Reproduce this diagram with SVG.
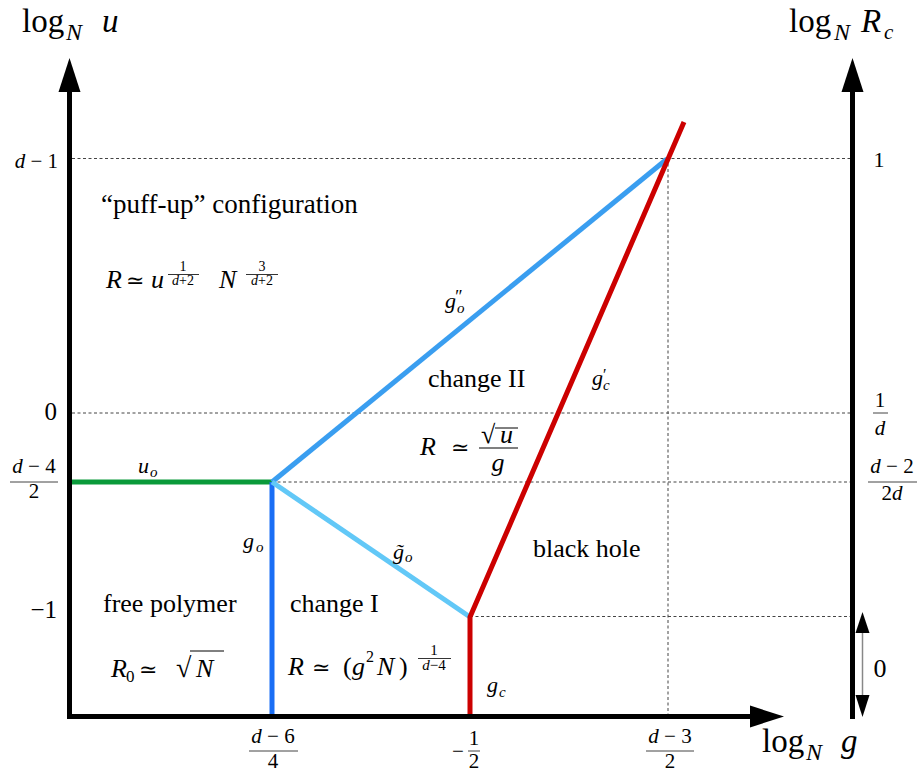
<svg xmlns="http://www.w3.org/2000/svg" width="921" height="774" viewBox="0 0 921 774">
<style>
text{font-family:"Liberation Serif","Times New Roman","DejaVu Serif",serif;fill:#000}
.i{font-style:italic}
.m{text-anchor:middle}
.e{text-anchor:end}
.ax{stroke:#000;stroke-width:5;fill:none}
.dash{stroke:#444;stroke-width:1;stroke-dasharray:3 2.5;fill:none}
.fb{stroke:#444;stroke-width:1}
.ln{stroke-width:5;fill:none;stroke-linejoin:miter}
.lab{font-size:26px}
.tk{font-size:21px}
.sc{font-size:15px}
.ttl{font-size:33px}
</style>
<rect width="921" height="774" fill="#fff"/>

<g id="grid">
<line class="dash" x1="72" y1="158.5" x2="850" y2="158.5"/>
<line class="dash" x1="72" y1="413" x2="850" y2="413"/>
<line class="dash" x1="272" y1="482" x2="850" y2="482"/>
<line class="dash" x1="470" y1="616.5" x2="850" y2="616.5"/>
<line class="dash" x1="668" y1="158" x2="668" y2="714"/>
</g>

<g id="connectors">
<line class="ln" x1="72" y1="482" x2="272" y2="482" stroke="#0a9a3a"/>
<line class="ln" x1="272" y1="482" x2="272" y2="715" stroke="#1a6ef5"/>
<line class="ln" x1="272" y1="482" x2="667" y2="159" stroke="#3a9ef0"/>
<line class="ln" x1="272" y1="482" x2="470" y2="617" stroke="#62c8f7"/>
<polyline class="ln" points="470,715 470,617 684,122" stroke="#cc0000"/>
</g>

<g id="axes">
<line class="ax" x1="69.5" y1="719" x2="69.5" y2="90"/>
<polygon points="69.5,58 58.5,92 80.5,92"/>
<line class="ax" x1="67" y1="716.5" x2="752" y2="716.5"/>
<polygon points="784,716.5 750,705.5 750,727.5"/>
<line class="ax" x1="852.5" y1="719" x2="852.5" y2="90"/>
<polygon points="852.5,58 841.5,92 863.5,92"/>
</g>

<g id="range-arrow">
<line x1="862.5" y1="630" x2="862.5" y2="698" stroke="#888" stroke-width="1.5"/>
<polygon points="862.5,612 855.5,633 869.5,633"/>
<polygon points="862.5,717 855.5,695 869.5,695"/>
<text class="m" x="880" y="677" font-size="26">0</text>
</g>

<g id="axis-titles">
<text class="ttl" x="22" y="32">log</text>
<text class="i" x="66" y="40" font-size="24">N</text>
<text class="i ttl" x="102" y="32">u</text>
<text class="ttl" x="789" y="32">log</text>
<text class="i" x="834" y="40" font-size="24">N</text>
<text class="i ttl" x="861" y="32">R</text>
<text class="i" x="884" y="39" font-size="21">c</text>
<text class="ttl" x="762" y="752">log</text>
<text class="i" x="806" y="760" font-size="24">N</text>
<text class="i ttl" x="841" y="752">g</text>
</g>

<g id="left-ticks">
<text class="tk e" x="58" y="168"><tspan class="i">d</tspan> − 1</text>
<text class="e" x="57" y="420" font-size="25">0</text>
<text class="tk m" x="34" y="473"><tspan class="i">d</tspan> − 4</text>
<line class="fb" x1="10" y1="482" x2="58" y2="482"/>
<text class="tk m" x="34" y="498">2</text>
<text class="e" x="57" y="618" font-size="25">−1</text>
</g>

<g id="right-ticks">
<text class="m" x="879" y="167" font-size="22">1</text>
<text class="tk m" x="880" y="407">1</text>
<line class="fb" x1="873" y1="413" x2="888" y2="413"/>
<text class="tk m i" x="880" y="435">d</text>
<text class="tk m" x="892" y="473"><tspan class="i">d</tspan> − 2</text>
<line class="fb" x1="868" y1="482" x2="917" y2="482"/>
<text class="tk m" x="892" y="500">2<tspan class="i">d</tspan></text>
</g>

<g id="bottom-ticks">
<text class="tk m" x="273" y="743"><tspan class="i">d</tspan> − 6</text>
<line class="fb" x1="249" y1="751" x2="298" y2="751"/>
<text class="tk m" x="273" y="768">4</text>
<text class="tk m" x="458" y="758">−</text>
<text class="tk m" x="474" y="745">1</text>
<line class="fb" x1="468" y1="751" x2="480" y2="751"/>
<text class="tk m" x="474" y="768">2</text>
<text class="tk m" x="670" y="743"><tspan class="i">d</tspan> − 3</text>
<line class="fb" x1="646" y1="751" x2="694" y2="751"/>
<text class="tk m" x="670" y="768">2</text>
</g>

<g id="puff-up">
<text x="101" y="213" font-size="27">“puff-up” configuration</text>
<text class="lab i" x="106" y="288">R</text>
<text x="126" y="288" font-size="22">≃</text>
<text class="lab i" x="151" y="288">u</text>
<text class="m" x="183" y="271" font-size="14">1</text>
<line x1="168" y1="274.5" x2="199" y2="274.5" stroke="#000" stroke-width="0.8"/>
<text class="m" x="183" y="285" font-size="14"><tspan class="i">d</tspan>+2</text>
<text class="lab i" x="219" y="288">N</text>
<text class="m" x="262" y="271" font-size="14">3</text>
<line x1="246" y1="274.5" x2="278" y2="274.5" stroke="#000" stroke-width="0.8"/>
<text class="m" x="262" y="285" font-size="14"><tspan class="i">d</tspan>+2</text>
</g>

<g id="change-II">
<text class="lab" x="428" y="387">change II</text>
<text class="lab i" x="420" y="455">R</text>
<text x="451" y="455" font-size="22">≃</text>
<text x="481" y="443" font-size="26">√</text>
<line x1="495" y1="428" x2="518" y2="428" stroke="#000" stroke-width="1"/>
<text class="lab i" x="500" y="443">u</text>
<line x1="479" y1="448" x2="518" y2="448" stroke="#000" stroke-width="1"/>
<text class="lab i m" x="498" y="471">g</text>
</g>

<g id="free-polymer">
<text class="lab" x="103" y="612">free polymer</text>
<text class="lab i" x="111" y="677">R</text>
<text x="126" y="682" font-size="17">0</text>
<text x="139" y="677" font-size="22">≃</text>
<text x="176" y="677" font-size="28">√</text>
<line x1="190" y1="651" x2="224" y2="651" stroke="#000" stroke-width="1"/>
<text class="lab i" x="196" y="677">N</text>
</g>

<g id="change-I">
<text class="lab" x="290" y="612">change I</text>
<text class="lab i" x="288" y="675">R</text>
<text x="312" y="675" font-size="22">≃</text>
<text class="lab" x="343" y="675">(</text>
<text class="lab i" x="352" y="675">g</text>
<text x="366" y="662" font-size="16">2</text>
<text class="lab i" x="377" y="675">N</text>
<text class="lab" x="399" y="675">)</text>
<text class="m" x="434" y="655" font-size="15">1</text>
<line x1="418" y1="658.5" x2="451" y2="658.5" stroke="#000" stroke-width="0.8"/>
<text class="m" x="434" y="670" font-size="15"><tspan class="i">d</tspan>−4</text>
</g>

<g id="black-hole">
<text class="lab" x="533" y="557">black hole</text>
</g>

<g id="line-labels">
<text class="i" x="138" y="473" font-size="22">u</text>
<text class="i sc" x="150" y="477">o</text>
<text class="i" x="243" y="548" font-size="22">g</text>
<text class="i sc" x="256" y="552">o</text>
<text class="i" x="393" y="559" font-size="22">g̃</text>
<text class="i sc" x="405" y="562">o</text>
<text class="i" x="445" y="308" font-size="22">g</text>
<text class="i" x="454" y="303" font-size="18">″</text>
<text class="i sc" x="457" y="313">o</text>
<text class="i" x="592" y="385" font-size="22">g</text>
<text class="i" x="602" y="380" font-size="16">′</text>
<text class="i sc" x="603" y="390">c</text>
<text class="i" x="487" y="692" font-size="22">g</text>
<text class="i sc" x="499" y="697">c</text>
</g>
</svg>
